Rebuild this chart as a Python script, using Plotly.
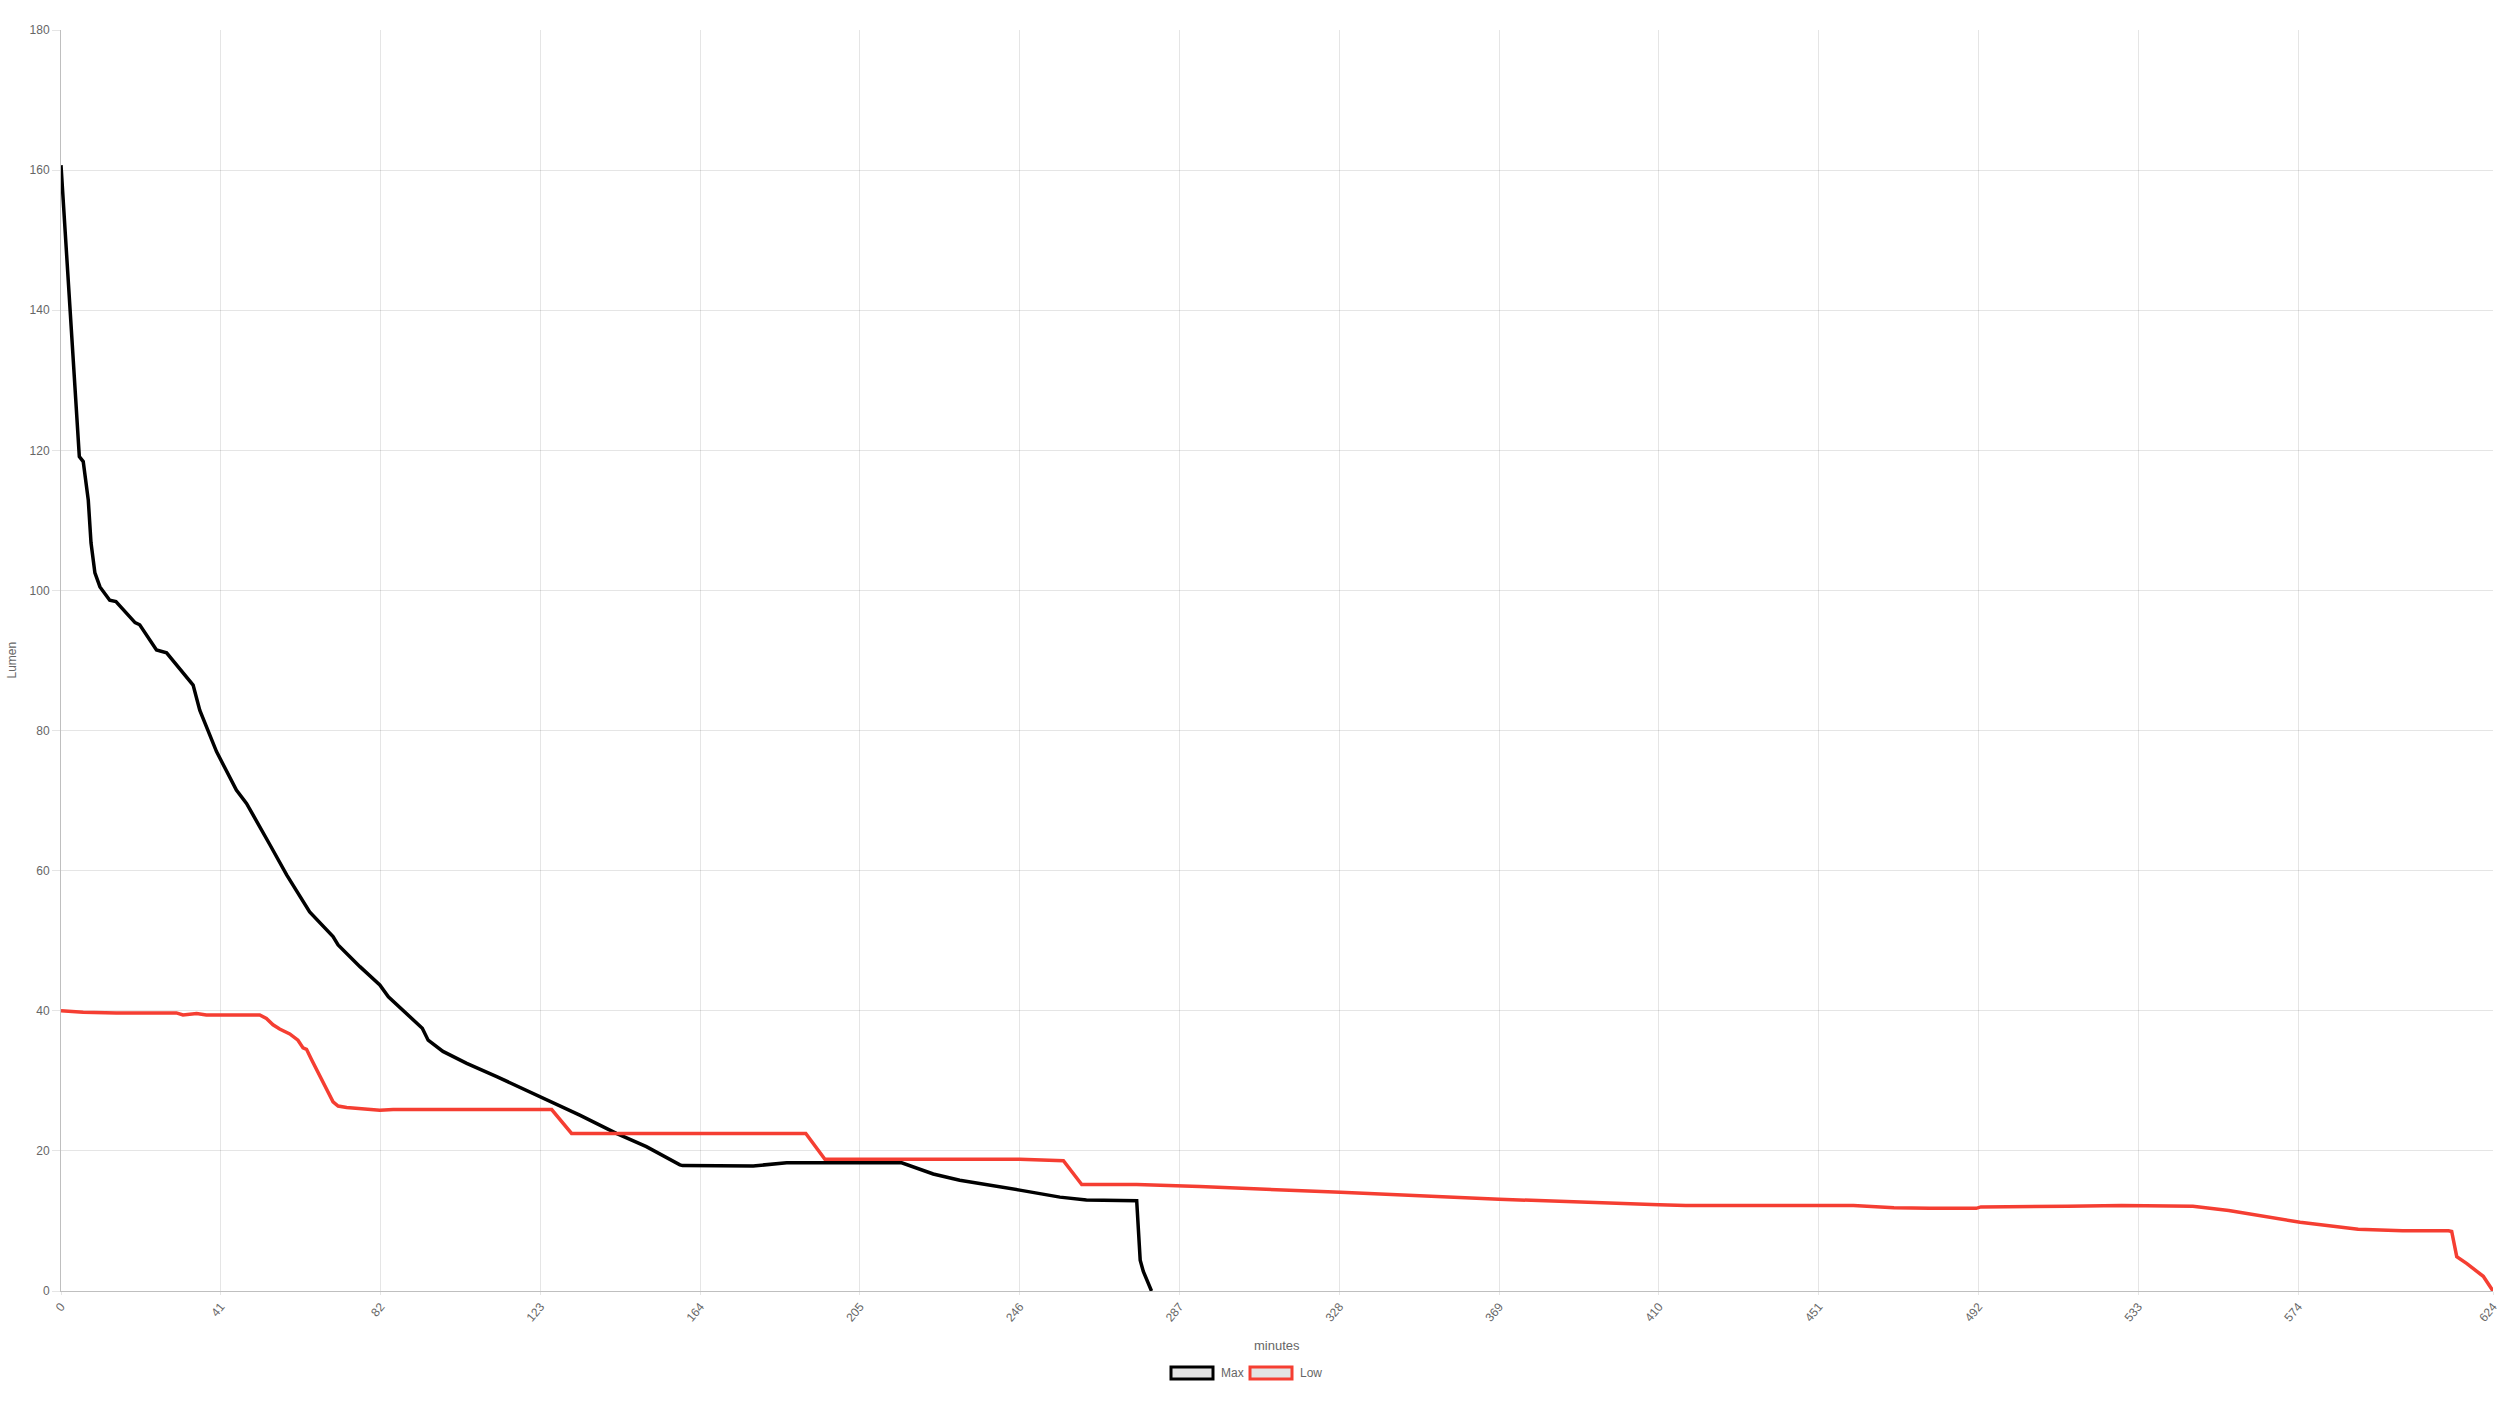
import plotly.graph_objects as go

# ---- data ----
max_minutes = [0, 2.3, 4.7, 5.7, 7.0, 7.7, 8.7, 10.0, 12.5, 14.1, 19.0, 20.2, 24.5, 27.1,
               33.9, 35.6, 39.9, 45.0, 47.6, 53.6, 57.9, 63.8, 69.8, 71.1, 76.7, 81.8, 84.0,
               92.7, 94.2, 98.0, 104.1, 111.8, 122.9, 133.1, 142.5, 150.2, 158.8, 159.5,
               177.6, 186.2, 215.7, 218.7, 223.8, 230.6, 240.9, 246.0, 256.3, 263.1, 276.0,
               276.9, 277.7, 279.8]
max_lumen = [160.7, 140.5, 119.1, 118.4, 112.9, 106.8, 102.5, 100.5, 98.6, 98.4, 95.4, 95.1,
             91.5, 91.1, 86.5, 82.9, 77.0, 71.5, 69.6, 63.7, 59.4, 54.1, 50.6, 49.4, 46.3,
             43.7, 42.0, 37.5, 35.8, 34.2, 32.5, 30.6, 27.7, 25.1, 22.5, 20.6, 18.0, 17.9,
             17.85, 18.3, 18.3, 17.7, 16.7, 15.8, 14.9, 14.4, 13.4, 13.0, 12.9, 4.4, 2.8, 0]

low_minutes = [0, 5.7, 14.2, 29.6, 31.3, 34.8, 37.3, 51.0, 52.7, 54.4, 56.1, 58.7, 60.8, 62.1,
               63.0, 64.3, 69.8, 71.1, 73.3, 81.8, 85.2, 125.9, 131.0, 191.1, 196.0, 246.0,
               257.2, 261.9, 276.0, 292.2, 328.3, 369.0, 410.0, 416.9, 459.9, 470.3, 479.4,
               491.4, 492.6, 501.2, 514.9, 528.7, 547.0, 556.2, 574.5, 589.4, 600.8, 612.6,
               613.4, 614.7, 617.3, 621.5, 624.0]
low_lumen = [40.0, 39.8, 39.7, 39.7, 39.4, 39.6, 39.4, 39.4, 38.9, 38.0, 37.4, 36.7, 35.8, 34.7,
             34.5, 33.0, 27.0, 26.4, 26.2, 25.8, 25.9, 25.9, 22.5, 22.5, 18.8, 18.8, 18.6,
             15.2, 15.2, 14.9, 14.1, 13.1, 12.3, 12.2, 12.2, 11.9, 11.8, 11.8, 12.0, 12.0,
             12.1, 12.2, 12.1, 11.5, 9.8, 8.8, 8.6, 8.6, 8.5, 4.9, 3.9, 2.1, 0]

x_ticks = [0, 41, 82, 123, 164, 205, 246, 287, 328, 369, 410, 451, 492, 533, 574, 624]
y_ticks = [0, 20, 40, 60, 80, 100, 120, 140, 160, 180]

series_names = ["Max", "Low"]
series_colors = ["#000000", "rgb(245,62,50)"]

FONT = "Liberation Sans, Arial, Helvetica, sans-serif"
TICK_COLOR = "#666666"
GRID = "rgba(0,0,0,0.1)"

fig = go.Figure()
fig.add_trace(go.Scatter(x=max_minutes, y=max_lumen, mode="lines", name=series_names[0],
                         line=dict(color=series_colors[0], width=3.5), showlegend=False))
fig.add_trace(go.Scatter(x=low_minutes, y=low_lumen, mode="lines", name=series_names[1],
                         line=dict(color=series_colors[1], width=3.5), showlegend=False))

W, H = 2500, 1406
ml, mr, mt, mb = 61, 7, 30, 115
pw, ph = W - ml - mr, H - mt - mb

def px_x(px):
    return (px - ml) / pw

def px_y(py):
    return (H - mb - py) / ph

fig.update_layout(
    width=W, height=H,
    margin=dict(l=ml, r=mr, t=mt, b=mb, autoexpand=False),
    paper_bgcolor="white", plot_bgcolor="white",
    font=dict(family=FONT, size=12, color=TICK_COLOR),
    showlegend=False,
)
fig.update_xaxes(
    range=[0, 624], tickmode="array", tickvals=x_ticks, ticktext=[str(t) for t in x_ticks],
    tickangle=-50, showgrid=True, gridcolor=GRID, gridwidth=1, automargin=False,
    ticks="outside", ticklen=3, tickcolor=GRID, ticklabeloverflow="allow",
    showline=True, linecolor="rgba(0,0,0,0.25)", linewidth=1,
    zeroline=False, tickfont=dict(size=12, color=TICK_COLOR, family=FONT),
)
fig.update_yaxes(
    range=[0, 180], tickmode="array", tickvals=y_ticks, automargin=False,
    showgrid=True, gridcolor=GRID, gridwidth=1,
    ticks="outside", ticklen=8, tickcolor=GRID,
    showline=True, linecolor="rgba(0,0,0,0.25)", linewidth=1,
    zeroline=False, tickfont=dict(size=12, color=TICK_COLOR, family=FONT),
)

# axis titles
fig.add_annotation(text="minutes", xref="paper", yref="paper", x=0.5, y=px_y(1345),
                   xanchor="center", yanchor="middle", showarrow=False,
                   font=dict(size=13, color=TICK_COLOR, family=FONT))
fig.add_annotation(text="Lumen", xref="paper", yref="paper", x=px_x(11), y=0.5,
                   xanchor="center", yanchor="middle", showarrow=False, textangle=-90,
                   font=dict(size=12, color=TICK_COLOR, family=FONT))

# legend (Chart.js style boxes)
legend_boxes = [(1171, 1213, 1219), (1250, 1292, 1298)]
ly = 1373
for (x0, x1, tx), name, col in zip(legend_boxes, series_names, series_colors):
    fig.add_shape(type="rect", xref="paper", yref="paper",
                  x0=px_x(x0), x1=px_x(x1), y0=px_y(ly + 6), y1=px_y(ly - 6),
                  fillcolor="#e3e3e3", line=dict(color=col, width=3))
    fig.add_annotation(text=name, xref="paper", yref="paper", x=px_x(tx), y=px_y(ly),
                       xanchor="left", yanchor="middle", showarrow=False,
                       font=dict(size=12, color=TICK_COLOR, family=FONT))

fig.write_html(
    "out.html",
    config={"displayModeBar": False},
    post_script="document.body.style.margin='0';document.body.style.overflow='hidden';",
)
